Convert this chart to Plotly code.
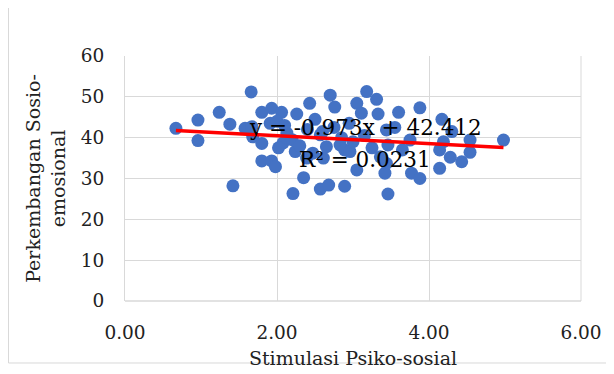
import plotly.graph_objects as go

# Data
stimulasi = [0.67, 0.96, 0.96, 1.24, 1.38, 1.42, 1.58, 1.66, 1.67, 1.68,
             1.80, 1.80, 1.80, 1.91, 1.93, 1.93, 1.98, 2.06, 2.08, 2.13,
             2.21, 2.24, 2.26, 2.35, 2.39, 2.43, 2.47, 2.57, 2.57, 2.61,
             2.65, 2.68, 2.70, 2.76, 2.83, 2.89, 2.89, 2.96, 3.05, 3.05,
             3.11, 3.18, 3.31, 3.33, 3.42, 3.44, 3.46, 3.46, 3.44, 3.36,
             3.60, 3.75, 3.77, 3.88, 3.88, 4.14, 4.14, 4.17, 4.19, 4.28,
             4.30, 4.43, 4.54, 4.54, 4.98, 2.00, 2.10, 2.20, 2.30, 2.40,
             2.50, 2.60, 2.75, 2.85, 2.95, 3.00, 3.15, 3.25, 3.55, 3.65,
             2.02]
sosioemosional = [42.3, 44.3, 39.3, 46.2, 43.3, 28.2, 42.3, 51.2, 42.7, 40.2,
                  46.2, 38.6, 34.3, 43.5, 47.2, 34.3, 32.9, 46.2, 38.7, 41.1,
                  26.3, 36.6, 45.8, 30.2, 35.0, 48.4, 36.2, 40.7, 27.4, 35.0,
                  37.8, 28.4, 50.4, 47.5, 38.2, 28.1, 37.0, 36.6, 48.4, 32.1,
                  46.0, 51.3, 49.4, 45.8, 31.3, 33.7, 26.2, 38.2, 41.9, 35.3,
                  46.2, 39.4, 31.3, 47.3, 30.0, 37.0, 32.5, 44.5, 39.0, 35.2,
                  41.5, 34.1, 36.4, 39.4, 39.4, 44.0, 43.0, 39.5, 38.0, 42.0,
                  44.5, 41.5, 42.5, 40.0, 43.5, 39.0, 40.5, 37.5, 42.5, 37.0,
                  37.5]
trend_slope = -0.973
trend_intercept = 42.412
trend_r2 = 0.0231
x_ticks = [0, 2, 4, 6]
y_ticks = [0, 10, 20, 30, 40, 50, 60]

x_min, x_max = min(stimulasi), max(stimulasi)
trend_x = [x_min, x_max]
trend_y = [trend_slope * v + trend_intercept for v in trend_x]

font_family = "DejaVu Serif, Liberation Serif, serif"

fig = go.Figure()
fig.add_trace(go.Scatter(
    x=stimulasi, y=sosioemosional, mode="markers",
    marker=dict(color="#4472C4", size=13, line=dict(width=0)),
    showlegend=False, hoverinfo="x+y"))
fig.add_trace(go.Scatter(
    x=trend_x, y=trend_y, mode="lines",
    line=dict(color="#FF0000", width=3.5),
    showlegend=False, hoverinfo="skip"))

fig.add_annotation(x=3.16, y=42.4, xref="x", yref="y",
                   text=f"y = {trend_slope}x + {trend_intercept}",
                   showarrow=False, font=dict(family=font_family, size=21.5, color="black"))
fig.add_annotation(x=3.16, y=34.6, xref="x", yref="y",
                   text=f"R² = {trend_r2}",
                   showarrow=False, font=dict(family=font_family, size=21.5, color="black"))

# chart-area border (left and bottom edges visible in reference)
fig.add_shape(type="line", xref="paper", yref="paper",
              x0=-0.2555, x1=-0.2555, y0=-0.253, y1=1.3,
              line=dict(color="#D9D9D9", width=1))
fig.add_shape(type="line", xref="paper", yref="paper",
              x0=-0.2555, x1=1.2, y0=-0.253, y1=-0.253,
              line=dict(color="#D9D9D9", width=1))

fig.update_layout(
    width=614, height=374,
    margin=dict(l=117, r=41, t=48, b=81),
    paper_bgcolor="white", plot_bgcolor="white",
    font=dict(family=font_family, size=19, color="#222222"),
    xaxis=dict(
        range=[0, 6], tickvals=x_ticks, tickformat=".2f",
        showgrid=True, gridcolor="#D9D9D9", gridwidth=1,
        zeroline=False, showline=False, automargin=False,
        ticklabelstandoff=18,
        title=dict(text="Stimulasi Psiko-sosial", font=dict(size=19), standoff=10),
        tickfont=dict(size=18.5),
    ),
    yaxis=dict(
        range=[0, 60], tickvals=y_ticks,
        showgrid=True, gridcolor="#D9D9D9", gridwidth=1,
        zeroline=False, showline=True, linecolor="#D9D9D9", linewidth=1,
        automargin=False,
        ticklabelstandoff=16,
        title=dict(text="Perkembangan Sosio-<br>emosional", font=dict(size=19), standoff=10),
        tickfont=dict(size=18.5),
    ),
)
fig.add_shape(type="line", xref="paper", yref="paper", x0=0, x1=1, y0=0, y1=0,
              line=dict(color="#D9D9D9", width=1.5), layer="below")
fig.add_shape(type="line", xref="paper", yref="paper", x0=1, x1=1, y0=0, y1=1,
              line=dict(color="#D9D9D9", width=1), layer="below")

fig.write_html("out.html")
